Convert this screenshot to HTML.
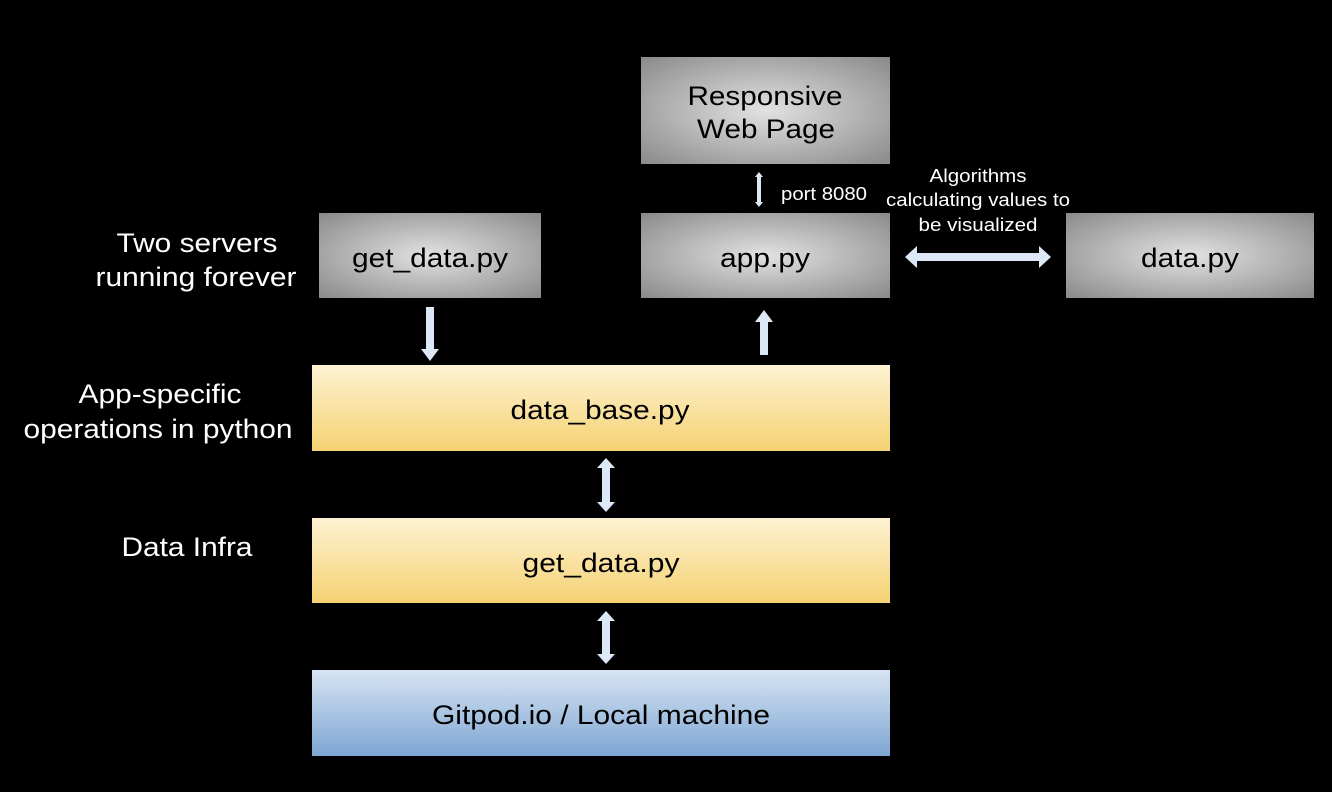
<!DOCTYPE html>
<html><head><style>html,body{margin:0;padding:0;background:#000;}svg{display:block}</style></head>
<body>
<svg width="1332" height="792" viewBox="0 0 1332 792" xmlns="http://www.w3.org/2000/svg" font-family="'Liberation Sans Narrow','Liberation Sans',sans-serif">
<defs>
<radialGradient id="g" cx="50%" cy="50%" r="70%">
<stop offset="0" stop-color="#e2e2e2"/><stop offset="1" stop-color="#8a8a8a"/></radialGradient>
<linearGradient id="y" x1="0" y1="0" x2="0" y2="1">
<stop offset="0" stop-color="#fdf2d3"/><stop offset="1" stop-color="#f5d272"/></linearGradient>
<linearGradient id="b" x1="0" y1="0" x2="0" y2="1">
<stop offset="0" stop-color="#d7e4f2"/><stop offset="1" stop-color="#7ea6d3"/></linearGradient>
</defs>
<rect width="1332" height="792" fill="#000"/>
<rect x="641" y="57" width="249" height="107" fill="url(#g)"/>
<rect x="319" y="213" width="222" height="85" fill="url(#g)"/>
<rect x="641" y="213" width="249" height="85" fill="url(#g)"/>
<rect x="1066" y="213" width="248" height="85" fill="url(#g)"/>
<rect x="312" y="365" width="578" height="86" fill="url(#y)"/>
<rect x="312" y="518" width="578" height="85" fill="url(#y)"/>
<rect x="312" y="670" width="578" height="86" fill="url(#b)"/>
<g fill="#dce8f5">
<polygon points="426,307 434,307 434,349 439,349 430,361 421,349 426,349"/>
<polygon points="760,355 768,355 768,322 773,322 764,310 755,322 760,322"/>
<polygon points="606,458 615,468 610,468 610,502 615,502 606,512 597,502 602,502 602,468 597,468"/>
<polygon points="606,611 615,621 610,621 610,654 615,654 606,664 597,654 602,654 602,621 597,621"/>
<polygon points="759,172 763,177 761,177 761,202 763,202 759,207 755,202 757,202 757,177 755,177"/>
<polygon points="905,257 917,246 917,253 1039,253 1039,246 1051,257 1039,268 1039,261 917,261 917,268"/>
</g>
<g font-size="27" fill="#000" text-anchor="middle" lengthAdjust="spacingAndGlyphs">
<text x="765" y="105" textLength="155" lengthAdjust="spacingAndGlyphs">Responsive</text>
<text x="766" y="138" textLength="138" lengthAdjust="spacingAndGlyphs">Web Page</text>
<text x="430" y="267" textLength="156" lengthAdjust="spacingAndGlyphs">get_data.py</text>
<text x="765" y="267" textLength="90" lengthAdjust="spacingAndGlyphs">app.py</text>
<text x="1190" y="267" textLength="98" lengthAdjust="spacingAndGlyphs">data.py</text>
<text x="600" y="419" textLength="179" lengthAdjust="spacingAndGlyphs">data_base.py</text>
<text x="601" y="572" textLength="157" lengthAdjust="spacingAndGlyphs">get_data.py</text>
<text x="601" y="724" textLength="338" lengthAdjust="spacingAndGlyphs">Gitpod.io / Local machine</text>
</g>
<g font-size="27" fill="#fff" text-anchor="middle">
<text x="197" y="252" textLength="161" lengthAdjust="spacingAndGlyphs">Two servers</text>
<text x="196" y="286" textLength="201" lengthAdjust="spacingAndGlyphs">running forever</text>
<text x="160" y="403" textLength="163" lengthAdjust="spacingAndGlyphs">App-specific</text>
<text x="158" y="438" textLength="269" lengthAdjust="spacingAndGlyphs">operations in python</text>
<text x="187" y="556" textLength="131" lengthAdjust="spacingAndGlyphs">Data Infra</text>
</g>
<g font-size="18" fill="#fff" text-anchor="middle">
<text x="824" y="200" textLength="86" lengthAdjust="spacingAndGlyphs">port 8080</text>
<text x="978" y="182" textLength="97" lengthAdjust="spacingAndGlyphs">Algorithms</text>
<text x="978" y="206" textLength="184" lengthAdjust="spacingAndGlyphs">calculating values to</text>
<text x="978" y="231" textLength="119" lengthAdjust="spacingAndGlyphs">be visualized</text>
</g>
</svg>
</body></html>
